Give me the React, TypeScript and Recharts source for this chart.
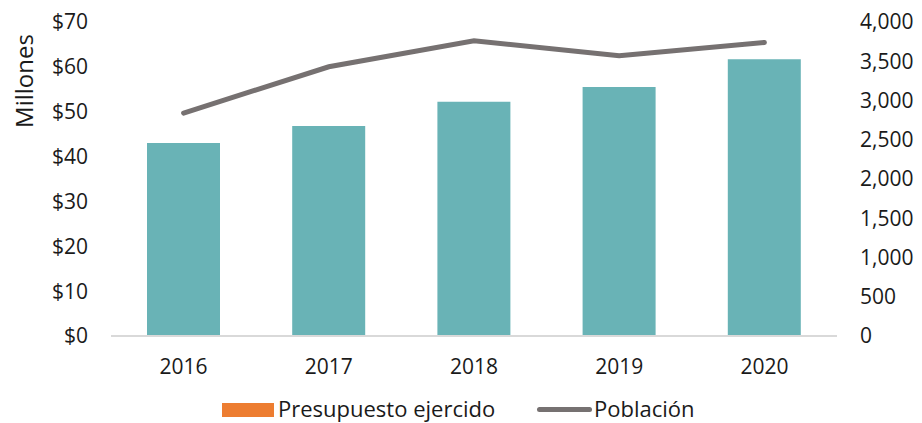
import { ComposedChart, Bar, Line, XAxis, YAxis, Legend } from 'recharts';

const years = ['2016', '2017', '2018', '2019', '2020'];
const presupuesto = [43.0, 46.8, 52.2, 55.5, 61.7];
const poblacion = [2840, 3430, 3760, 3570, 3740];
const leftTicks = [0, 10, 20, 30, 40, 50, 60, 70];
const rightTicks = [0, 500, 1000, 1500, 2000, 2500, 3000, 3500, 4000];

const data = years.map((y, i) => ({ year: y, presupuesto: presupuesto[i], poblacion: poblacion[i] }));

const FONT = '"Open Sans", "Noto Sans", sans-serif';
const TEXT = '#1a1a1a';

function LegendBox() {
  return (
    <div style={{ height: 42, width: 922, position: 'relative', fontFamily: FONT, fontSize: 22, color: TEXT }}>
      <div style={{ position: 'absolute', left: 222, top: 22, width: 52, height: 14, background: '#ED7D31' }} />
      <span style={{ position: 'absolute', left: 278, top: 14, lineHeight: '26px', whiteSpace: 'nowrap' }}>Presupuesto ejercido</span>
      <div style={{ position: 'absolute', left: 537, top: 26, width: 55, height: 5, borderRadius: 3, background: '#767171' }} />
      <span style={{ position: 'absolute', left: 594, top: 14, lineHeight: '26px', whiteSpace: 'nowrap' }}>Población</span>
    </div>
  );
}

export default function App() {
  return (
    <div style={{ position: 'absolute', left: 0, top: 0, background: '#fff' }}>
      <ComposedChart width={922} height={423} data={data} margin={{ top: 22, right: 0, bottom: 0, left: 0 }} style={{ fontFamily: FONT }}>
        <XAxis
          dataKey="year"
          height={45}
          tickLine={false}
          tickSize={0}
          tickMargin={23}
          axisLine={{ stroke: '#D9D9D9', strokeWidth: 2 }}
          tick={{ fill: TEXT, fontSize: 21 }}
        />
        <YAxis
          yAxisId="left"
          width={111}
          domain={[0, 70]}
          ticks={leftTicks}
          interval={0}
          tickFormatter={(v: number) => `$${v}`}
          axisLine={false}
          tickLine={false}
          tickSize={0}
          tickMargin={23}
          tick={{ fill: TEXT, fontSize: 21 }}
          label={{
            content: () => (
              <text x={23} y={81} transform="rotate(-90, 23, 81)" textAnchor="middle" dominantBaseline="central" fill={TEXT} fontSize={24}>
                Millones
              </text>
            ),
          }}
        />
        <YAxis
          yAxisId="right"
          orientation="right"
          width={85}
          domain={[0, 4000]}
          ticks={rightTicks}
          interval={0}
          tickFormatter={(v: number) => v.toLocaleString('en-US')}
          axisLine={false}
          tickLine={false}
          tickSize={0}
          tickMargin={23}
          tick={{ fill: TEXT, fontSize: 21 }}
        />
        <Legend verticalAlign="bottom" content={() => <LegendBox />} />
        <Bar yAxisId="left" dataKey="presupuesto" name="Presupuesto ejercido" fill="#69B3B6" barSize={73} isAnimationActive={false} />
        <Line
          yAxisId="right"
          type="linear"
          dataKey="poblacion"
          name="Población"
          stroke="#767171"
          strokeWidth={5}
          strokeLinecap="round"
          dot={false}
          activeDot={false}
          isAnimationActive={false}
        />
      </ComposedChart>
    </div>
  );
}
